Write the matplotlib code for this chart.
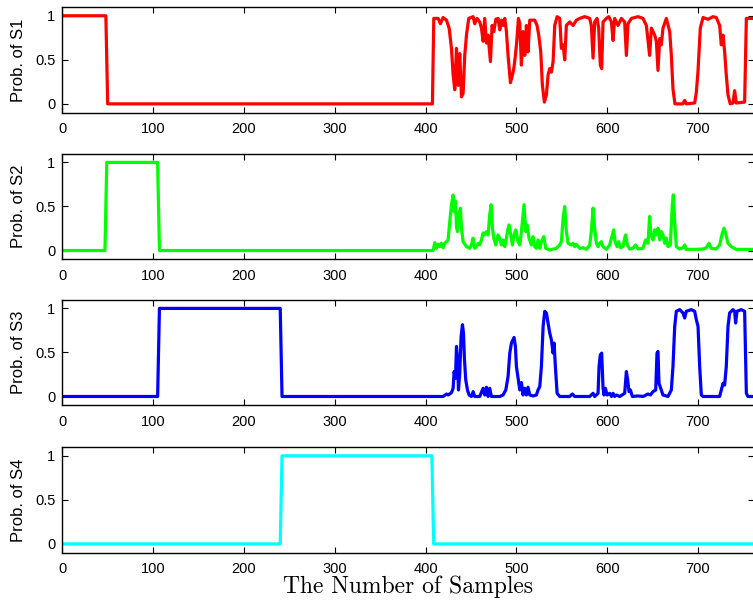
import matplotlib
matplotlib.use('Agg')
import matplotlib.pyplot as plt

plt.rcParams['font.family'] = 'Liberation Sans'

# Вибірки (x) та ймовірності станів S1..S4
s1_x = [0, 48, 50, 407.6, 409.1, 413.9, 416.4, 419.4, 423.1, 426.0, 428.6, 430.4, 432.2, 434.1,
        435.9, 437.7, 439.6, 441.4, 443.2, 445.1, 447.6, 452.4, 454.2, 456.8, 459.7, 461.6,
        463.4, 465.2, 467.1, 468.9, 471.5, 473.3, 475.2, 477.4, 479.9, 481.8, 483.6, 485.4,
        487.3, 489.1, 490.9, 493.5, 495.3, 497.2, 499.0, 500.5, 502.3, 503.8, 505.6, 507.4,
        509.3, 511.1, 512.9, 514.8, 520.3, 522.8, 524.7, 526.9, 528.7, 530.9, 533.1, 535.0,
        536.8, 538.6, 540.5, 542.3, 544.9, 547.8, 549.6, 551.5, 553.3, 555.1, 558.8, 562.5,
        566.1, 569.8, 575.3, 580.8, 582.6, 584.5, 586.3, 588.9, 590.7, 592.5, 594.0, 595.5,
        599.2, 601.7, 604.7, 606.5, 608.3, 612.0, 615.7, 619.3, 621.2, 623.0, 626.7, 634.0,
        639.5, 643.2, 646.8, 648.7, 652.4, 654.2, 656.0, 657.9, 659.7, 661.5, 665.2, 668.9,
        670.7, 672.5, 674.7, 683.5, 685.4, 687.2, 696.4, 698.2, 700.0, 702.6, 705.6, 711.1,
        716.6, 720.2, 723.9, 725.7, 727.6, 729.4, 731.2, 733.1, 735.6, 738.6, 740.4, 742.2,
        751.4, 753.3, 760]
s1_y = [1, 1, 0, 0, 0.97, 0.97, 0.91, 0.98, 0.95, 0.86, 0.63, 0.33, 0.16, 0.63, 0.21, 0.57,
        0.08, 0.12, 0.55, 0.78, 0.97, 0.99, 0.91, 0.97, 0.93, 0.86, 0.71, 0.97, 0.69, 0.78,
        0.48, 0.89, 0.82, 0.96, 0.97, 0.84, 0.95, 0.89, 0.97, 0.82, 0.55, 0.24, 0.31, 0.40,
        0.55, 0.71, 0.97, 0.91, 0.44, 0.82, 0.55, 0.89, 0.59, 0.95, 0.95, 0.89, 0.78, 0.59,
        0.21, 0.02, 0.10, 0.33, 0.40, 0.36, 0.48, 0.89, 0.99, 0.97, 0.63, 0.67, 0.50, 0.89,
        0.93, 0.89, 0.95, 0.97, 0.99, 0.97, 0.89, 0.52, 0.93, 0.97, 0.86, 0.44, 0.40, 0.93,
        0.97, 0.99, 0.93, 0.72, 0.97, 0.89, 0.97, 0.93, 0.55, 0.91, 0.97, 0.99, 0.97, 0.89,
        0.55, 0.86, 0.78, 0.71, 0.38, 0.74, 0.67, 0.86, 0.97, 0.82, 0.55, 0.17, 0.0, 0.0,
        0.04, 0.0, 0.01, 0.13, 0.36, 0.86, 0.98, 0.96, 0.99, 0.98, 0.89, 0.67, 0.78, 0.59,
        0.33, 0.10, 0.0, 0.01, 0.15, 0.01, 0.02, 0.97, 0.97]

s2_x = [0, 47, 49, 105, 107, 408.4, 410.2, 412.0, 413.9, 415.7, 417.5, 419.4, 421.2, 423.1,
        424.9, 426.7, 428.6, 430.4, 431.5, 433.0, 434.1, 435.2, 436.6, 438.5, 439.6, 441.4,
        445.1, 448.7, 450.6, 452.4, 454.2, 456.1, 457.9, 459.7, 461.6, 463.4, 465.2, 467.1,
        468.9, 470.7, 472.2, 473.7, 475.2, 477.4, 479.9, 481.8, 483.6, 485.4, 487.3, 489.1,
        490.9, 492.0, 493.9, 495.7, 497.5, 499.4, 501.9, 503.8, 505.6, 507.4, 508.5, 510.4,
        511.8, 514.0, 516.6, 518.4, 520.3, 522.1, 523.9, 525.8, 527.6, 530.2, 532.4, 536.8,
        544.1, 547.8, 549.6, 551.5, 553.3, 555.1, 557.0, 560.6, 562.5, 564.3, 566.1, 569.8,
        573.5, 577.2, 580.8, 582.6, 584.5, 586.3, 588.1, 590.0, 591.8, 593.6, 595.5, 599.2,
        602.8, 605.8, 607.2, 608.7, 610.9, 612.7, 614.6, 617.5, 619.3, 620.4, 622.3, 624.8,
        628.5, 631.4, 634.0, 639.5, 642.4, 645.0, 646.8, 648.3, 650.5, 652.4, 654.2, 656.0,
        657.9, 659.7, 661.5, 663.4, 665.2, 667.0, 669.6, 671.8, 672.9, 674.4, 676.2, 679.9,
        683.5, 685.4, 687.2, 698.2, 705.6, 709.2, 712.2, 714.7, 720.2, 723.9, 726.8, 728.7,
        730.5, 733.1, 736.7, 742.2, 760]
s2_y = [0, 0, 1, 1, 0, 0, 0.09, 0.025, 0.07, 0.044, 0.082, 0.032, 0.082, 0.10, 0.12, 0.33,
        0.52, 0.63, 0.44, 0.56, 0.27, 0.215, 0.405, 0.48, 0.253, 0.10, 0.044, 0.025, 0.063,
        0.14, 0.025, 0.044, 0.082, 0.063, 0.12, 0.20, 0.177, 0.215, 0.177, 0.405, 0.52,
        0.253, 0.14, 0.063, 0.177, 0.14, 0.063, 0.12, 0.044, 0.14, 0.253, 0.29, 0.177,
        0.063, 0.177, 0.234, 0.10, 0.063, 0.215, 0.405, 0.52, 0.215, 0.29, 0.14, 0.063,
        0.158, 0.044, 0.025, 0.12, 0.025, 0.10, 0.158, 0.025, 0.006, 0.025, 0.063, 0.10,
        0.367, 0.50, 0.215, 0.082, 0.063, 0.082, 0.044, 0.07, 0.025, 0.032, 0.013, 0.063,
        0.215, 0.481, 0.253, 0.082, 0.044, 0.082, 0.10, 0.044, 0.013, 0.063, 0.177, 0.234,
        0.10, 0.044, 0.10, 0.032, 0.044, 0.14, 0.177, 0.063, 0.017, 0.025, 0.063, 0.017,
        0.025, 0.12, 0.082, 0.386, 0.177, 0.12, 0.234, 0.177, 0.253, 0.12, 0.215, 0.177,
        0.082, 0.14, 0.044, 0.063, 0.519, 0.632, 0.329, 0.044, 0.017, 0.032, 0.063, 0.013,
        0.013, 0.017, 0.032, 0.082, 0.025, 0.017, 0.063, 0.196, 0.253, 0.196, 0.082, 0.044,
        0.013, 0.013]

s3_x = [0, 105, 107, 240, 242, 419.4, 423.1, 424.9, 428.6, 430.4, 431.5, 433.0, 434.1, 435.2,
        436.3, 437.7, 439.2, 440.7, 441.8, 442.9, 444.3, 446.2, 448.0, 450.6, 452.4, 454.2,
        459.7, 463.4, 465.2, 467.1, 468.9, 470.7, 472.6, 481.8, 485.4, 488.4, 490.9, 492.8,
        494.6, 496.4, 497.5, 499.0, 500.1, 501.9, 503.8, 505.6, 507.4, 509.3, 511.1, 512.9,
        514.8, 518.4, 522.1, 523.9, 525.8, 527.6, 529.5, 531.3, 533.1, 535.0, 536.8, 538.6,
        540.5, 541.6, 543.0, 544.9, 547.8, 558.8, 561.7, 564.3, 580.8, 584.5, 586.3, 590.0,
        591.1, 592.5, 594.0, 595.5, 596.6, 598.1, 599.9, 602.8, 604.7, 606.5, 608.3, 610.2,
        613.8, 619.3, 621.2, 622.6, 624.1, 625.6, 627.8, 634.0, 639.5, 645.0, 647.6, 650.5,
        653.5, 654.9, 656.0, 657.1, 659.0, 661.5, 667.0, 670.7, 672.5, 674.4, 676.2, 679.9,
        683.5, 685.4, 687.2, 692.7, 696.4, 698.2, 700.1, 701.9, 703.7, 705.6, 723.9, 725.7,
        727.6, 729.4, 731.2, 733.1, 734.9, 738.6, 740.4, 741.5, 743.0, 747.7, 751.4, 753.3,
        755.1, 760]
s3_y = [0, 0, 1, 1, 0, 0, 0.028, 0.017, 0.044, 0.093, 0.283, 0.207, 0.568, 0.435, 0.074,
        0.264, 0.681, 0.815, 0.72, 0.416, 0.188, 0.074, 0.017, 0, 0.055, 0, 0, 0.093, 0.017,
        0.105, 0, 0.093, 0, 0, 0.017, 0.074, 0.226, 0.492, 0.606, 0.644, 0.67, 0.568, 0.34,
        0.207, 0.074, 0.158, 0.017, 0.093, 0.017, 0.105, 0.017, 0.006, 0.017, 0.074, 0.112,
        0.34, 0.796, 0.967, 0.948, 0.834, 0.72, 0.644, 0.492, 0.606, 0.34, 0.036, 0, 0,
        0.028, 0, 0, 0.036, 0, 0.036, 0.34, 0.473, 0.492, 0.093, 0.017, 0.093, 0.017, 0.036,
        0, 0.036, 0, 0.017, 0, 0.036, 0.283, 0.188, 0.055, 0.074, 0, 0.006, 0, 0.028, 0.017,
        0.055, 0.074, 0.492, 0.511, 0.15, 0.093, 0.017, 0, 0.074, 0.34, 0.796, 0.967, 0.986,
        0.948, 0.891, 0.967, 0.986, 0.967, 0.872, 0.796, 0.34, 0.017, 0, 0, 0.074, 0.15,
        0.13, 0.34, 0.796, 0.948, 0.986, 0.967, 0.834, 0.967, 0.986, 0.967, 0.036, 0, 0]

s4_x = [0, 240, 242, 407, 409, 760]
s4_y = [0, 0, 1, 1, 0, 0]

series = [(s1_x, s1_y, '#ff0000', 'Prob. of S1'),
          (s2_x, s2_y, '#00ff00', 'Prob. of S2'),
          (s3_x, s3_y, '#0000ff', 'Prob. of S3'),
          (s4_x, s4_y, '#00ffff', 'Prob. of S4')]

fig = plt.figure(figsize=(7.53, 6.0), dpi=100)

# позиції панелей (низ у частках фігури)
bottoms = [0.8122, 0.5678, 0.3245, 0.0788]
axes = []
for (xs, ys, color, label), b in zip(series, bottoms):
    ax = fig.add_axes([0.0827, b, 0.9186, 0.1762])
    ax.plot(xs, ys, color=color, linewidth=2.3)
    ax.set_xlim(0, 761.7)
    ax.set_ylim(-0.1, 1.1)
    ax.set_xticks(range(0, 800, 100))
    ax.set_yticks([0, 0.5, 1])
    ax.set_yticklabels(['0', '0.5', '1'])
    ax.tick_params(direction='in', length=4, width=0.8, top=True, right=True,
                   labelsize=10.5, pad=5)
    ax.tick_params(axis='x', pad=7)
    ax.set_ylabel(label, fontsize=12)
    ax.yaxis.set_label_coords(-0.052, 0.5)
    for sp in ax.spines.values():
        sp.set_linewidth(1.0)
    axes.append(ax)

axes[-1].set_xlabel('The Number of Samples', fontsize=17, family='cmr10', labelpad=-1)

plt.savefig('out.png', dpi=100)
plt.close()
